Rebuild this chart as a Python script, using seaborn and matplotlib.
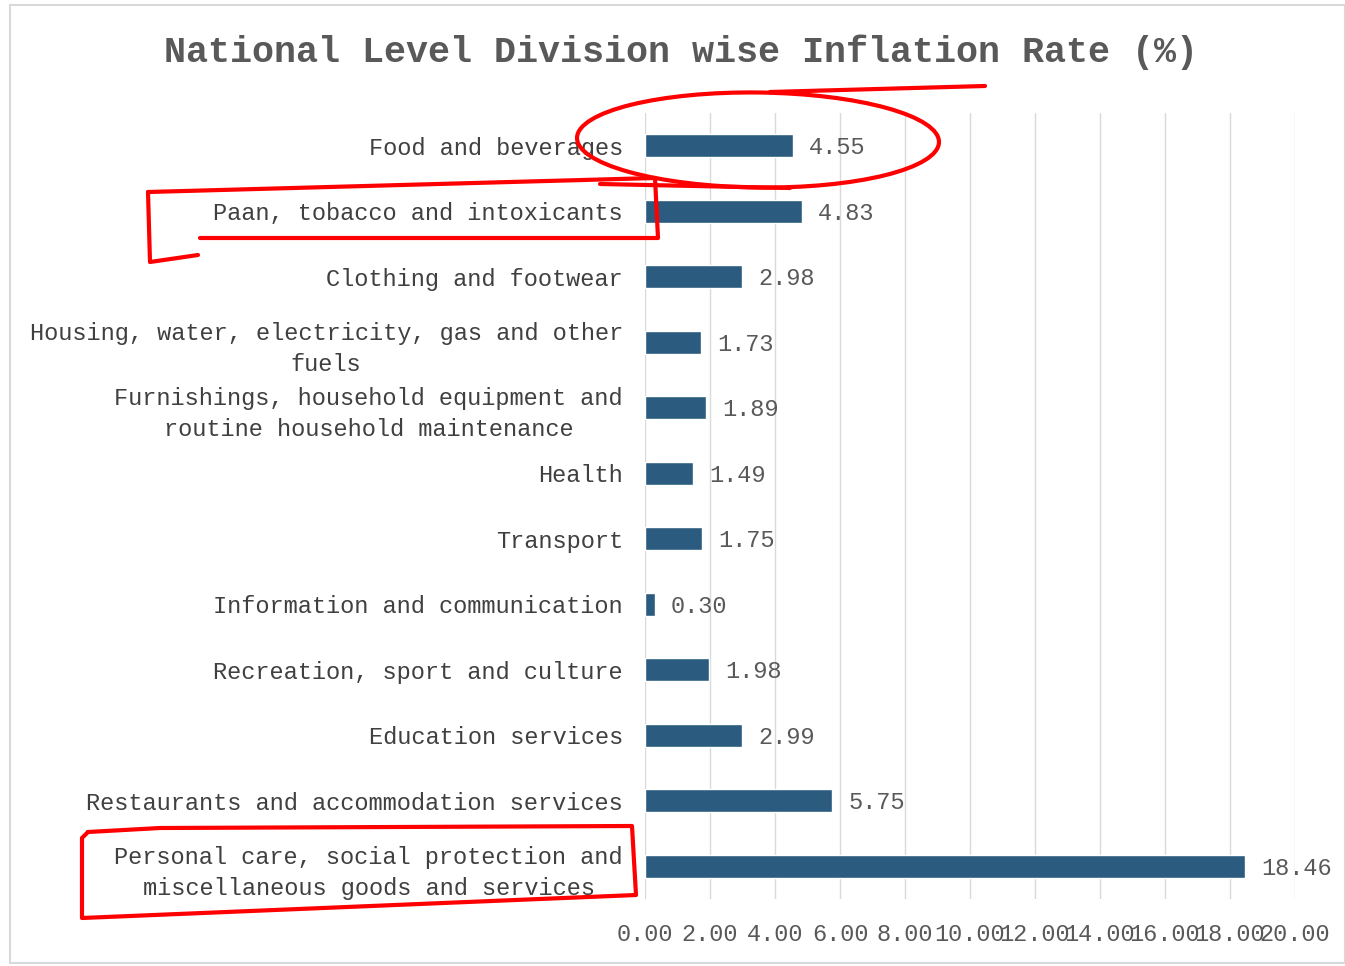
import matplotlib
matplotlib.use("Agg")
import matplotlib.pyplot as plt
import seaborn as sns
import pandas as pd
from matplotlib.patches import Ellipse, Rectangle
from matplotlib.lines import Line2D

categories = [
    "Food and beverages",
    "Paan, tobacco and intoxicants",
    "Clothing and footwear",
    "Housing, water, electricity, gas and other\nfuels",
    "Furnishings, household equipment and\nroutine household maintenance",
    "Health",
    "Transport",
    "Information and communication",
    "Recreation, sport and culture",
    "Education services",
    "Restaurants and accommodation services",
    "Personal care, social protection and\nmiscellaneous goods and services",
]
values = [4.55, 4.83, 2.98, 1.73, 1.89, 1.49, 1.75, 0.30, 1.98, 2.99, 5.75, 18.46]
xticks = [0, 2, 4, 6, 8, 10, 12, 14, 16, 18, 20]

sns.set_theme(style="white")
plt.rcParams['font.family'] = ['Liberation Mono', 'DejaVu Sans Mono']

df = pd.DataFrame({"category": categories, "value": values})

W, H = 1345, 966
fig = plt.figure(figsize=(W / 100, H / 100), dpi=100)
ax = fig.add_axes([645 / W, 1 - 899 / H, 650 / W, (899 - 113) / H])

sns.barplot(data=df, x="value", y="category", color="#2b5b7e", width=0.35,
            ax=ax, saturation=1, zorder=3)

ax.set_xlim(0, 20)
ax.set_xticks(xticks)
ax.set_xticklabels([f"{t:.2f}" for t in xticks], fontsize=17, color="#595959")
ax.tick_params(axis="x", length=0, pad=17)
ax.tick_params(axis="y", length=0, pad=16)
for lbl in ax.get_yticklabels():
    lbl.set_fontsize(17)
    lbl.set_color("#404040")
    lbl.set_multialignment("center")
    lbl.set_linespacing(1.45)
ax.set_xlabel("")
ax.set_ylabel("")
ax.grid(axis="x", color="#d9d9d9", linewidth=1, zorder=0)
for s in ax.spines.values():
    s.set_visible(False)

for i, v in enumerate(values):
    ax.text(v + 0.5, i + 0.03, f"{v:.2f}", va="center", ha="left", fontsize=17, color="#595959")

fig.text(0.5 * (163 + 1198) / W, 1 - 52 / H, "National Level Division wise Inflation Rate (%)",
         ha="center", va="center", fontsize=26.5, fontweight="bold", color="#595959")

# outer frame
fig.patches.append(Rectangle((10 / W, 3 / H), (W - 10) / W, (963 - 5) / H,
                             transform=fig.transFigure, fill=False,
                             edgecolor="#d9d9d9", linewidth=1.5))

# red hand-drawn annotations (figure pixel coordinates)
red = "#ff0000"

def stroke(points):
    xs = [p[0] / W for p in points]
    ys = [1 - p[1] / H for p in points]
    fig.lines.append(Line2D(xs, ys, transform=fig.transFigure, color=red,
                            linewidth=3, solid_capstyle="round", solid_joinstyle="round"))

e = Ellipse((758 / W, 1 - 140 / H), 362 / W, 95 / H, angle=-1, transform=fig.transFigure,
            fill=False, edgecolor=red, linewidth=3)
fig.patches.append(e)
stroke([(770, 92), (985, 86)])
stroke([(600, 184), (790, 188)])
stroke([(148, 192), (655, 178), (658, 238), (200, 238)])
stroke([(148, 192), (150, 262), (198, 255)])
stroke([(88, 832), (160, 828), (632, 826), (636, 895), (82, 918), (82, 838), (88, 832)])

fig.savefig("out.png", dpi=100, facecolor="white")
